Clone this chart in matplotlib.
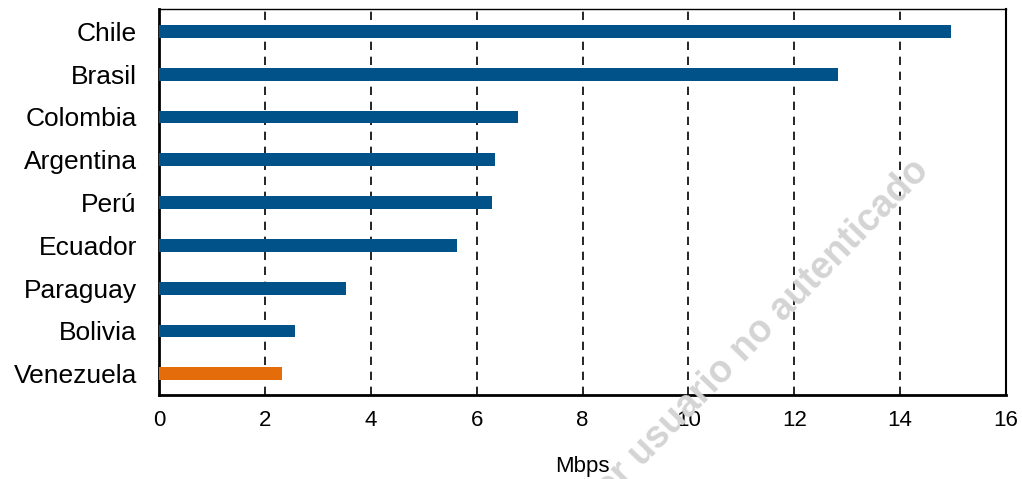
import matplotlib.pyplot as plt

paises = ['Chile', 'Brasil', 'Colombia', 'Argentina', 'Perú', 'Ecuador',
          'Paraguay', 'Bolivia', 'Venezuela']
mbps = [14.96, 12.83, 6.78, 6.35, 6.29, 5.63, 3.53, 2.57, 2.32]
colores = ['#005288'] * 8 + ['#E46C0A']
ticks_x = [0, 2, 4, 6, 8, 10, 12, 14, 16]

plt.rcParams['font.family'] = ['Liberation Sans', 'DejaVu Sans']

fig = plt.figure(figsize=(10.22, 4.79), dpi=100)
ax = fig.add_axes([0.1556, 0.175, 0.8288, 0.806])

pos = list(range(len(paises)))
ax.barh(pos, mbps, height=0.3, color=colores, zorder=3)
ax.set_ylim(len(paises) - 0.5, -0.52)
ax.set_yticks(pos)
ax.set_yticklabels(paises, fontsize=19)
ax.set_xlim(0, 16)
ax.set_xticks(ticks_x)
ax.set_xticklabels([str(t) for t in ticks_x], fontsize=16)
ax.tick_params(axis='x', length=0, pad=11)
ax.tick_params(axis='y', length=0, pad=16)
ax.set_xlabel('Mbps', fontsize=16, labelpad=18)

for t in ticks_x[1:-1]:
    ax.axvline(t, color='black', linestyle=(0, (5, 4)), linewidth=1.2, zorder=1)

ax.spines['left'].set_linewidth(2)
ax.spines['bottom'].set_linewidth(2)
ax.spines['top'].set_linewidth(1)
ax.spines['right'].set_linewidth(1.5)

# marca de agua
fig.text(0.91, 0.641, 'Descargado por usuario no autenticado', fontsize=27,
         color='#d4d4d4', rotation=45.7, ha='right', va='baseline',
         rotation_mode='anchor', fontweight='bold', zorder=10)

fig.savefig('out.png', dpi=100)
